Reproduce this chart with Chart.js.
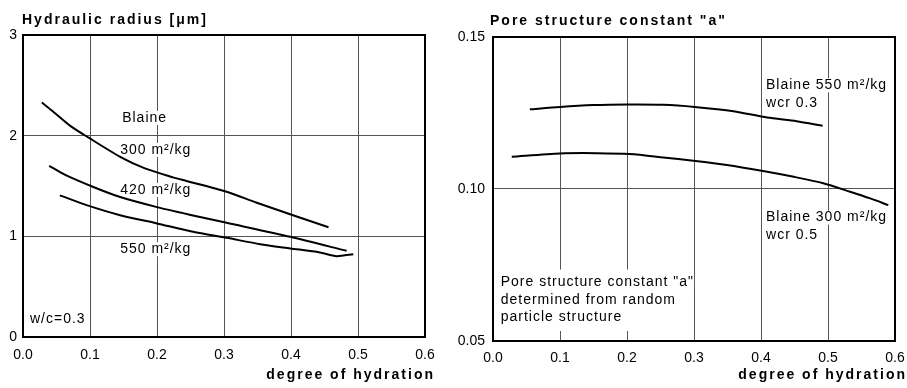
<!DOCTYPE html>
<html>
<head>
<meta charset="utf-8">
<script src="https://cdn.jsdelivr.net/npm/chart.js@4.4.0/dist/chart.umd.min.js"></script>
<style>
  body { margin: 0; background: #fff; overflow: hidden; }
  .box { position: absolute; top: 0; height: 388px; }
  #left { left: 0; width: 450px; }
  #right { left: 450px; width: 457px; }
</style>
</head>
<body>
<div class="box" id="left"><canvas id="graficoRadio"></canvas></div>
<div class="box" id="right"><canvas id="graficoPoros"></canvas></div>
<script>
// Datos
const xTicks = [0, 0.1, 0.2, 0.3, 0.4, 0.5, 0.6];
const radiusTicks = [0, 1, 2, 3];
const poreTicks = [0.05, 0.10, 0.15];

// Hydraulic radius, w/c = 0.3
const b300X = [0.028, 0.043, 0.07, 0.098, 0.145, 0.182, 0.224, 0.244, 0.304, 0.349, 0.403, 0.456];
const b300Y = [2.33, 2.25, 2.10, 1.98, 1.79, 1.675, 1.586, 1.55, 1.443, 1.333, 1.21, 1.09];
const b420X = [0.039, 0.063, 0.105, 0.145, 0.20, 0.252, 0.304, 0.399, 0.483];
const b420Y = [1.70, 1.61, 1.49, 1.39, 1.29, 1.21, 1.134, 0.995, 0.856];
const b550X = [0.055, 0.095, 0.145, 0.20, 0.254, 0.304, 0.354, 0.399, 0.443, 0.468, 0.493];
const b550Y = [1.407, 1.31, 1.21, 1.128, 1.045, 0.985, 0.922, 0.88, 0.84, 0.803, 0.823];

// Pore structure constant "a"
const a550X = [0.055, 0.1, 0.15, 0.2, 0.254, 0.301, 0.359, 0.409, 0.453, 0.492];
const a550Y = [0.1262, 0.127, 0.1276, 0.1278, 0.1277, 0.127, 0.1256, 0.1235, 0.1223, 0.1208];
const a300X = [0.028, 0.1, 0.155, 0.204, 0.254, 0.299, 0.349, 0.401, 0.449, 0.493, 0.533, 0.563, 0.59];
const a300Y = [0.1106, 0.1117, 0.1118, 0.1115, 0.1104, 0.1093, 0.1079, 0.106, 0.104, 0.1019, 0.0991, 0.0969, 0.0947];

const toPoints = (xs, ys) => xs.map((x, i) => ({ x: x, y: ys[i] }));

// Textos dentro del grafico (posicion en unidades de datos)
const leftNotes = [
    { text: 'Blaine', x: 0.148, y: 2.176 },
    { text: '300 m²/kg', x: 0.145, y: 1.858 },
    { text: '420 m²/kg', x: 0.145, y: 1.46 },
    { text: '550 m²/kg', x: 0.145, y: 0.873 },
    { text: 'w/c=0.3', x: 0.0104, y: 0.176 }
];
const rightNotes = [
    { text: 'Blaine 550 m²/kg', x: 0.4075, y: 0.1341 },
    { text: 'wcr 0.3', x: 0.4075, y: 0.1282 },
    { text: 'Blaine 300 m²/kg', x: 0.4075, y: 0.0906 },
    { text: 'wcr 0.5', x: 0.4075, y: 0.0849 },
    { text: 'Pore structure constant "a"', x: 0.0115, y: 0.0695 },
    { text: 'determined from random', x: 0.0115, y: 0.0636 },
    { text: 'particle structure', x: 0.0115, y: 0.0577 }
];

const fuente = '"Liberation Sans", Arial, Helvetica, sans-serif';
const colorGrid = '#555';

const texto = (ctx, str, x, y, font, spacing, fondo) => {
    ctx.save();
    ctx.font = font;
    ctx.letterSpacing = spacing + 'px';
    ctx.textBaseline = 'middle';
    ctx.textAlign = 'left';
    const w = ctx.measureText(str).width;
    if (fondo) {
        ctx.fillStyle = '#fff';
        ctx.fillRect(x - 2, y - 7, w + 2, 14);
    }
    ctx.fillStyle = '#000';
    ctx.fillText(str, x, y);
    ctx.restore();
    return w;
};

const marco = (opts) => ({
    id: 'marco',
    beforeDatasetsDraw(chart) {
        const ctx = chart.ctx;
        const xs = chart.scales.x, ys = chart.scales.y;
        if (opts.box) {
            // caja blanca del texto inferior (tapa la reticula)
            const a = chart.chartArea;
            ctx.save();
            ctx.fillStyle = '#fff';
            const top = ys.getPixelForValue(opts.box.yTop);
            ctx.fillRect(a.left + 1, top, xs.getPixelForValue(opts.box.x1) - a.left - 2, a.bottom - 10 - top);
            ctx.restore();
        }
        opts.notes.forEach(n => {
            texto(ctx, n.text, xs.getPixelForValue(n.x), ys.getPixelForValue(n.y), '14px ' + fuente, 1, true);
        });
    },
    afterDraw(chart) {
        const ctx = chart.ctx;
        const a = chart.chartArea;
        ctx.save();
        ctx.strokeStyle = '#000';
        ctx.lineWidth = 2;
        ctx.strokeRect(a.left, a.top, a.right - a.left, a.bottom - a.top);
        ctx.restore();
        // titulos
        texto(ctx, opts.title, opts.titleX, opts.titleY, 'bold 14px ' + fuente, 2, false);
        ctx.save();
        ctx.font = 'bold 14px ' + fuente;
        ctx.letterSpacing = '2px';
        const w = ctx.measureText('degree of hydration').width;
        ctx.restore();
        texto(ctx, 'degree of hydration', opts.xTitleEnd - w + 2, 375, 'bold 14px ' + fuente, 2, false);
    }
});

const lineaNegra = (data) => ({
    data: data,
    borderColor: '#000',
    borderWidth: 2,
    pointRadius: 0,
    tension: 0.25,
    fill: false
});

const opciones = (cfg) => ({
    responsive: true,
    maintainAspectRatio: false,
    animation: false,
    layout: { padding: { top: cfg.top, right: cfg.right, left: 0, bottom: 0 } },
    plugins: { legend: { display: false }, tooltip: { enabled: false } },
    scales: {
        x: {
            type: 'linear',
            min: 0, max: 0.6,
            afterBuildTicks: (s) => { s.ticks = xTicks.map(v => ({ value: v })); },
            afterFit: (s) => { s.height = cfg.xHeight; s.paddingLeft = 0; s.paddingRight = 0; },
            grid: { color: colorGrid, lineWidth: 1, drawTicks: false },
            border: { display: false },
            ticks: {
                padding: cfg.xPad,
                color: '#000',
                font: { family: fuente, size: 14 },
                maxRotation: 0,
                callback: (v) => v.toFixed(1)
            }
        },
        y: {
            type: 'linear',
            min: cfg.yMin, max: cfg.yMax,
            afterBuildTicks: (s) => { s.ticks = cfg.yTicks.map(v => ({ value: v })); },
            afterFit: (s) => { s.width = cfg.yWidth; s.paddingTop = 0; s.paddingBottom = 0; },
            grid: { color: colorGrid, lineWidth: 1, drawTicks: false },
            border: { display: false },
            ticks: {
                padding: cfg.yPad,
                color: '#000',
                font: { family: fuente, size: 14 },
                callback: (v) => cfg.yDec ? v.toFixed(cfg.yDec) : String(v)
            }
        }
    }
});

// Grafico izquierdo: Hydraulic radius
new Chart(document.getElementById('graficoRadio').getContext('2d'), {
    type: 'line',
    data: {
        datasets: [
            lineaNegra(toPoints(b300X, b300Y)),
            lineaNegra(toPoints(b420X, b420Y)),
            lineaNegra(toPoints(b550X, b550Y))
        ]
    },
    options: opciones({ top: 35, right: 25, xHeight: 51, yWidth: 23, xPad: 10, yPad: 6,
        yMin: 0, yMax: 3, yTicks: radiusTicks, yDec: 0 }),
    plugins: [marco({ notes: leftNotes, title: 'Hydraulic radius [μm]', titleX: 22, titleY: 20, xTitleEnd: 433 })]
});

// Grafico derecho: Pore structure constant
new Chart(document.getElementById('graficoPoros').getContext('2d'), {
    type: 'line',
    data: {
        datasets: [
            lineaNegra(toPoints(a550X, a550Y)),
            lineaNegra(toPoints(a300X, a300Y))
        ]
    },
    options: opciones({ top: 37, right: 12, xHeight: 47, yWidth: 43, xPad: 9, yPad: 8,
        yMin: 0.05, yMax: 0.15, yTicks: poreTicks, yDec: 2 }),
    plugins: [marco({ notes: rightNotes, title: 'Pore structure constant "a"', titleX: 40, titleY: 21, xTitleEnd: 455,
        box: { x1: 0.3, yTop: 0.0735 } })]
});
</script>
</body>
</html>
